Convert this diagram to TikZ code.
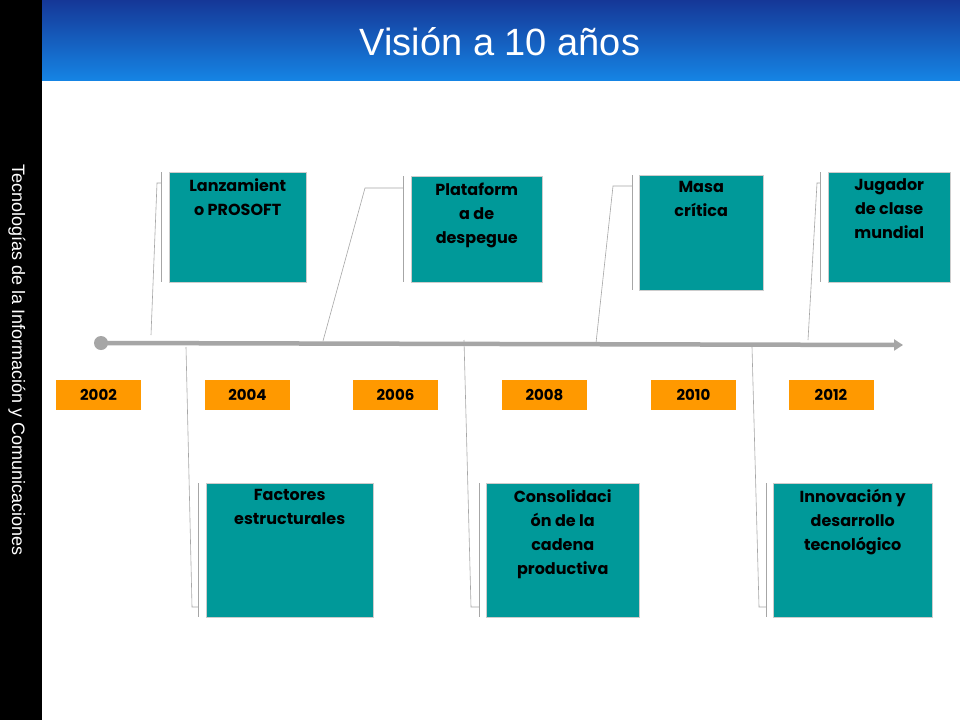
\documentclass[tikz,border=0pt]{standalone}
\usepackage{fontspec}
\usetikzlibrary{arrows.meta}
\setmainfont{Liberation Sans}
\newfontfamily\boxfont{Poppins}
\begin{document}
\begin{tikzpicture}[x=1pt,y=-1pt,
  tbox/.style={draw=gray!40,fill=boxteal,anchor=north west,inner sep=0pt},
  ttext/.style={anchor=north,align=center,font=\boxfont\fontsize{16}{24}\selectfont\bfseries,text=black},
  ybox/.style={fill=yorange,minimum width=85pt,minimum height=30pt,inner sep=0pt,font=\boxfont\fontsize{15}{18}\selectfont\bfseries},
  lead/.style={draw=gray!70,line width=0.6pt}]
\definecolor{boxteal}{HTML}{009999}
\definecolor{yorange}{HTML}{FF9900}
\definecolor{hblue}{HTML}{1E4FD8}
\useasboundingbox (0,0) rectangle (960,720);
\fill[white] (0,0) rectangle (960,720);
\shade[top color=hblue!70!black,bottom color=hblue!70!cyan] (42,0) rectangle (960,80);
\fill[black] (0,0) rectangle (42,720);
\node[text=white,font=\fontsize{38}{44}\selectfont] (title) at (500,42) {Visión a 10 años};
\node[text=white,rotate=-90,font=\fontsize{18}{22}\selectfont] (side) at (17,360) {Tecnologías de la Información y Comunicaciones};
% timeline
\coordinate (t0) at (101,343);
\coordinate (t1) at (903,345);
\draw[gray!70,line width=4.5pt,-{Triangle[length=9pt,width=11pt]}] (t0) -- (t1);
\fill[gray!70] (t0) circle (7);
% years
\foreach \n/\x in {2002/98.5,2004/247.5,2006/395.5,2008/544.5,2010/693.5,2012/831}
  \node[ybox] (y\n) at (\x,395) {\n};
% top boxes
\node[tbox,minimum width=137pt,minimum height=110pt] (b1) at (169,172) {};
\node[ttext] at (b1.north) [yshift=-3pt] {Lanzamient\\o PROSOFT};
\node[tbox,minimum width=131pt,minimum height=106pt] (b2) at (411,176) {};
\node[ttext] at (b2.north) [yshift=-3pt] {Plataform\\a de\\despegue};
\node[tbox,minimum width=124pt,minimum height=115pt] (b3) at (639,175) {};
\node[ttext] at (b3.north) [yshift=-3pt] {Masa\\crítica};
\node[tbox,minimum width=122pt,minimum height=110pt] (b4) at (828,172) {};
\node[ttext] at (b4.north) [yshift=-3pt] {Jugador\\de clase\\mundial};
% bottom boxes
\node[tbox,minimum width=167pt,minimum height=134pt] (b5) at (206,483) {};
\node[ttext] at (b5.north) [yshift=-3pt] {Factores\\estructurales};
\node[tbox,minimum width=153pt,minimum height=134pt] (b6) at (486,483) {};
\node[ttext] at (b6.north) [yshift=-3pt] {Consolidaci\\ón de la\\cadena\\productiva};
\node[tbox,minimum width=159pt,minimum height=134pt] (b7) at (773,483) {};
\node[ttext] at (b7.north) [yshift=-3pt] {Innovación y\\desarrollo\\tecnológico};
% callouts top
\coordinate (c1) at (157,183); \coordinate (e1) at (151,335);
\draw[lead] (161,172) -- (161,282); \draw[lead] (161,183) -- (c1) -- (e1);
\coordinate (c2) at (365,188); \coordinate (e2) at (323,341);
\draw[lead] (403,176) -- (403,282); \draw[lead] (403,188) -- (c2) -- (e2);
\coordinate (c3) at (613,186); \coordinate (e3) at (596,343);
\draw[lead] (632,175) -- (632,290); \draw[lead] (632,186) -- (c3) -- (e3);
\coordinate (c4) at (817,183); \coordinate (e4) at (808,340);
\draw[lead] (820,172) -- (820,282); \draw[lead] (820,183) -- (c4) -- (e4);
% callouts bottom
\coordinate (c5) at (192,607); \coordinate (e5) at (186,347);
\draw[lead] (198,483) -- (198,617); \draw[lead] (198,607) -- (c5) -- (e5);
\coordinate (c6) at (471,607); \coordinate (e6) at (464,340);
\draw[lead] (479,483) -- (479,617); \draw[lead] (479,607) -- (c6) -- (e6);
\coordinate (c7) at (759,607); \coordinate (e7) at (752,347);
\draw[lead] (766,483) -- (766,617); \draw[lead] (766,607) -- (c7) -- (e7);
\end{tikzpicture}
\end{document}
